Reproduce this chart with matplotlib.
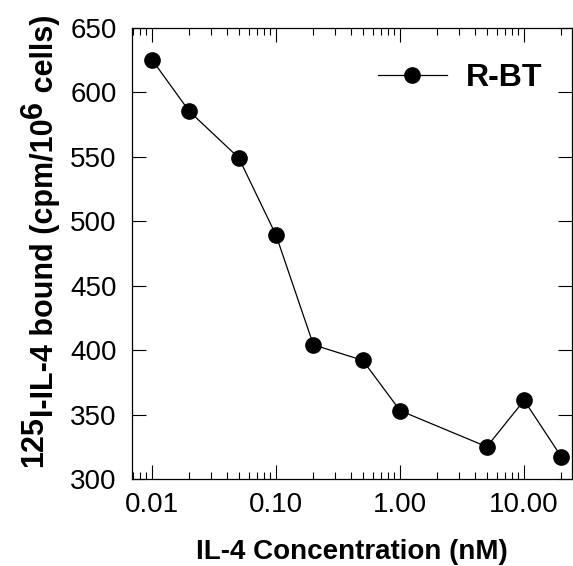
import matplotlib
matplotlib.use("Agg")
import matplotlib.pyplot as plt
from matplotlib.ticker import LogLocator, FixedLocator, FixedFormatter, NullFormatter

plt.rcParams['font.family'] = ['Liberation Sans', 'DejaVu Sans']

conc = [0.01, 0.02, 0.05, 0.1, 0.2, 0.5, 1.0, 5.0, 10.0, 20.0]
bound = [625, 585, 549, 489, 404, 392, 353, 325, 361, 317]
series_name = "R-BT"
xtick_vals = [0.01, 0.1, 1.0, 10.0]
xtick_labels = ["0.01", "0.10", "1.00", "10.00"]
ytick_vals = [300, 350, 400, 450, 500, 550, 600, 650]
xlabel_text = "IL-4 Concentration (nM)"
ylabel_pieces = [("125", True), ("I-IL-4 bound (cpm/10", False), ("6", True), (" cells)", False)]

W, H = 573, 566
fig = plt.figure(figsize=(W / 100, H / 100), dpi=100)
ax = fig.add_axes([0.2304, 0.1537, 0.7686, 0.7977])
ax.plot(conc, bound, color='black', lw=0.9, marker='o', markersize=11,
        markerfacecolor='black', markeredgecolor='black', label=series_name)
ax.set_xscale('log')
ax.set_xlim(0.0069, 24.5)
ax.set_ylim(300, 650)
ax.xaxis.set_major_locator(FixedLocator(xtick_vals))
ax.xaxis.set_major_formatter(FixedFormatter(xtick_labels))
ax.xaxis.set_minor_locator(LogLocator(base=10, subs=range(2, 10), numticks=20))
ax.xaxis.set_minor_formatter(NullFormatter())
ax.set_yticks(ytick_vals)
ax.tick_params(axis='both', which='major', direction='in', length=10, width=0.8,
               labelsize=20, top=True, right=True)
ax.tick_params(axis='y', which='major', pad=11)
ax.tick_params(axis='x', which='major', pad=9)
ax.tick_params(axis='x', which='minor', direction='in', length=5, width=0.8, top=True)
for s in ax.spines.values():
    s.set_linewidth(0.9)

# x label
fig.text(352 / W, 7 / H, xlabel_text, fontsize=20, fontweight='bold',
         ha='center', va='baseline')

# y label with full-size raised superscripts
FS = 22
r = fig.canvas.get_renderer()
lengths = []
for s, _ in ylabel_pieces:
    t = fig.text(0, 0, s, fontsize=FS, fontweight='bold', rotation=90,
                 rotation_mode='anchor', ha='left', va='baseline')
    lengths.append(t.get_window_extent(r).height)
    t.remove()
total = sum(lengths)
y = 325 - total / 2
for (s, raised), L in zip(ylabel_pieces, lengths):
    xb = 42 if raised else 53
    fig.text(xb / W, y / H, s, fontsize=FS, fontweight='bold', rotation=90,
             rotation_mode='anchor', ha='left', va='baseline')
    y += L

ax.legend(loc='upper right', bbox_to_anchor=(0.997, 0.985), frameon=False,
          prop={'size': 23, 'weight': 'bold'}, handlelength=2.15, handletextpad=0.6)
fig.savefig("out.png", dpi=100)
